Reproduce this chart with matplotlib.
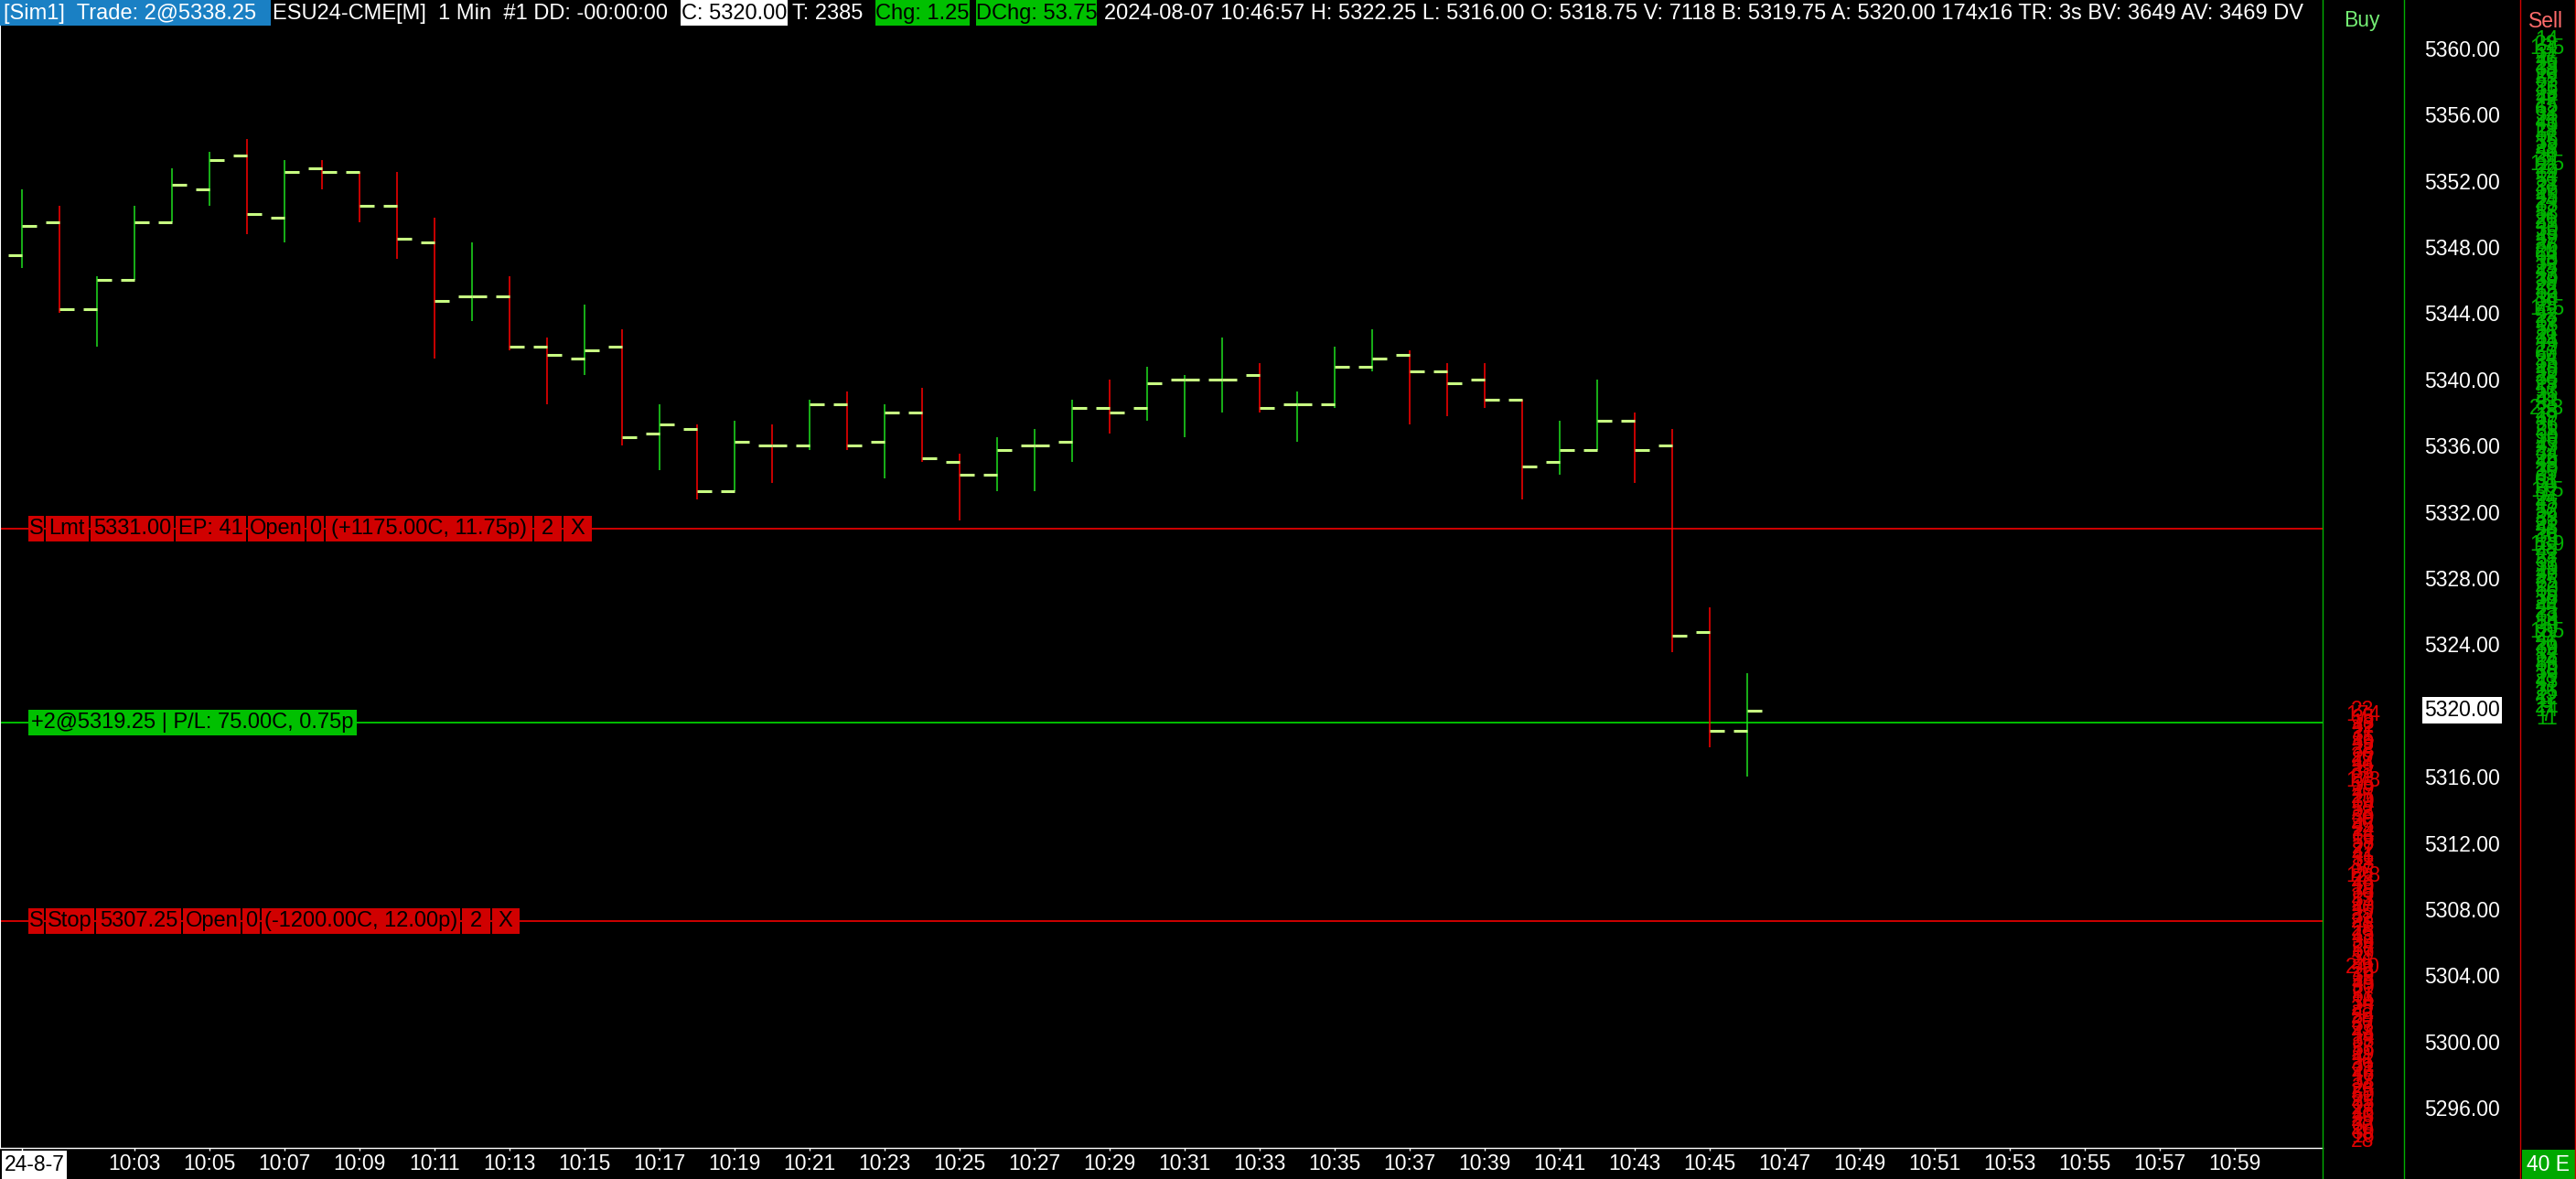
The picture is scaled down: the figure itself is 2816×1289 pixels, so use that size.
import matplotlib
matplotlib.use('Agg')
import matplotlib.pyplot as plt
from matplotlib.patches import Rectangle
from matplotlib.lines import Line2D
from matplotlib.transforms import blended_transform_factory

plt.rcParams['font.family'] = ['Liberation Sans', 'DejaVu Sans']

# ------------------------------------------------------------------ data
bar_start = '10:00'          # time of first bar, one bar per minute
opens = [5347.50, 5349.50, 5344.25, 5346.00, 5349.50, 5351.50, 5353.50, 5349.75,
         5352.75, 5352.50, 5350.50, 5348.25, 5345.00, 5345.00, 5342.00, 5341.25,
         5342.00, 5336.75, 5337.00, 5333.25, 5336.00, 5336.00, 5338.50, 5336.25,
         5338.00, 5335.00, 5334.25, 5336.00, 5336.25, 5338.25, 5338.25, 5340.00,
         5340.00, 5340.25, 5338.50, 5338.50, 5340.75, 5341.50, 5340.50, 5340.00,
         5338.75, 5335.00, 5335.75, 5337.50, 5336.00, 5324.75, 5318.75]
highs = [5351.50, 5350.50, 5346.25, 5350.50, 5352.75, 5353.75, 5354.50, 5353.25,
         5353.25, 5352.50, 5352.50, 5349.75, 5348.25, 5346.25, 5342.50, 5344.50,
         5343.00, 5338.50, 5337.25, 5337.50, 5337.25, 5338.75, 5339.25, 5338.50,
         5339.50, 5335.50, 5336.50, 5337.00, 5338.75, 5340.00, 5340.75, 5340.25,
         5342.50, 5341.00, 5339.25, 5342.00, 5343.00, 5341.75, 5341.00, 5341.00,
         5338.75, 5337.50, 5340.00, 5338.00, 5337.00, 5326.25, 5322.25]
lows = [5346.75, 5344.00, 5342.00, 5346.00, 5349.50, 5350.50, 5348.75, 5348.25,
        5351.50, 5349.50, 5347.25, 5341.25, 5343.50, 5341.75, 5338.50, 5340.25,
        5336.00, 5334.50, 5332.75, 5333.25, 5333.75, 5335.75, 5335.75, 5334.00,
        5335.00, 5331.50, 5333.25, 5333.25, 5335.00, 5336.75, 5337.50, 5336.50,
        5338.00, 5338.00, 5336.25, 5338.25, 5340.50, 5337.25, 5337.75, 5338.25,
        5332.75, 5334.25, 5335.75, 5333.75, 5323.50, 5317.75, 5316.00]
closes = [5349.25, 5344.25, 5346.00, 5349.50, 5351.75, 5353.25, 5350.00, 5352.50,
          5352.50, 5350.50, 5348.50, 5344.75, 5345.00, 5342.00, 5341.50, 5341.75,
          5336.50, 5337.25, 5333.25, 5336.25, 5336.00, 5338.50, 5336.00, 5338.00,
          5335.25, 5334.25, 5335.75, 5336.00, 5338.25, 5338.00, 5339.75, 5340.00,
          5340.00, 5338.25, 5338.50, 5340.75, 5341.25, 5340.50, 5339.75, 5338.75,
          5334.75, 5335.75, 5337.50, 5335.75, 5324.50, 5318.75, 5320.00]

time_labels = ['10:03', '10:05', '10:07', '10:09', '10:11', '10:13', '10:15', '10:17',
               '10:19', '10:21', '10:23', '10:25', '10:27', '10:29', '10:31', '10:33',
               '10:35', '10:37', '10:39', '10:41', '10:43', '10:45', '10:47', '10:49',
               '10:51', '10:53', '10:55', '10:57', '10:59']
date_label = '24-8-7'
price_ticks = [5296, 5300, 5304, 5308, 5312, 5316, 5320, 5324, 5328, 5332,
               5336, 5340, 5344, 5348, 5352, 5356, 5360]
last_price = 5320.00

limit_price = 5331.00
limit_cells = ['S', 'Lmt', '5331.00', 'EP: 41', 'Open', '0', '(+1175.00C, 11.75p)', '2', 'X']
stop_price = 5307.25
stop_cells = ['S', 'Stop', '5307.25', 'Open', '0', '(-1200.00C, 12.00p)', '2', 'X']
position_price = 5319.25
position_text = '+2@5319.25 | P/L: 75.00C, 0.75p'

header_texts = ['[Sim1]  Trade: 2@5338.25',
                'ESU24-CME[M]  1 Min  #1 DD: -00:00:00',
                'C: 5320.00',
                'T: 2385',
                'Chg: 1.25',
                'DChg: 53.75',
                '2024-08-07 10:46:57 H: 5322.25 L: 5316.00 O: 5318.75 V: 7118 '
                'B: 5319.75 A: 5320.00 174x16 TR: 3s BV: 3649 AV: 3469 DV']
buy_title = 'Buy'
sell_title = 'Sell'
corner_label = '40 E'

# sell column volumes, one per 0.25 tick from 5360.50 downwards
sell_top = 5360.50
sell_volume = [
    14, 22, 135, 31, 17, 46, 25, 38, 12, 29,
    53, 21, 36, 18, 44, 27, 15, 62, 33, 24,
    41, 19, 28, 57, 16, 35, 23, 48, 26, 31,
    125, 22, 39, 14, 51, 28, 37, 19, 45, 24,
    33, 17, 58, 26, 21, 43, 30, 15, 49, 27,
    36, 20, 64, 18, 32, 25, 47, 13, 39, 28,
    22, 55, 16, 34, 29, 135, 42, 23, 37, 18,
    51, 26, 31, 44, 19, 27, 60, 24, 35, 15,
    46, 22, 38, 29, 17, 53, 25, 41, 33, 233,
    28, 19, 47, 36, 21, 58, 30, 16, 43, 27,
    34, 22, 49, 18, 39, 25, 61, 31, 20, 115,
    37, 24, 45, 17, 52, 29, 33, 21, 48, 26,
    36, 15, 139, 28, 42, 23, 57, 31, 19, 46,
    27, 35, 22, 50, 16, 38, 29, 44, 25, 33,
    18, 54, 30, 135, 21, 47, 26, 39, 14, 32,
    24, 58, 19, 36, 28, 43, 17, 31, 25, 12,
    9, 21, 14, 7, 11]
# buy column volumes, one per 0.25 tick from 5320.00 downwards
buy_top = 5320.00
buy_volume = [
    23, 174, 35, 18, 42, 27, 31, 15, 49, 22,
    38, 26, 17, 44, 29, 33, 21, 178, 36, 19,
    47, 25, 30, 14, 52, 28, 39, 20, 45, 24,
    34, 16, 58, 27, 22, 41, 31, 18, 37, 26,
    128, 23, 46, 19, 35, 29, 53, 17, 40, 25,
    32, 21, 48, 28, 15, 43, 36, 24, 57, 19,
    31, 26, 240, 22, 39, 18, 45, 30, 27, 51,
    16, 34, 25, 42, 29, 20, 37, 23, 48, 14,
    33, 27, 55, 19, 41, 26, 31, 22, 46, 17,
    38, 24, 29, 50, 21, 35, 27, 18, 43, 25,
    32, 20, 39, 16, 28]

# ------------------------------------------------------------------ layout
W, H, DPI = 2816, 1289, 100
PLOT_R = 2539          # right edge of price pane (px)
PLOT_B = 1255          # bottom edge of price pane (px)
PX_PER_PT = 18.1       # vertical pixels per index point
Y_REF_PX, Y_REF_P = 776.7, 5320.0
PX_PER_BAR = 41.0
X0_PX = 24.3           # pixel of first bar
FS = 17
FS_AX = 16.5
FS_VOL = 16.5

RED = '#d00000'
GREEN_BG = '#00c000'
UP = '#1fe01f'
DOWN = '#ff0000'
TICKC = '#c8ff82'


def mins(t):
    h, m = t.split(':')
    return int(h) * 60 + int(m)


t0 = mins(bar_start)

fig = plt.figure(figsize=(W / DPI, H / DPI), dpi=DPI, facecolor='black')

ax = fig.add_axes([0, 1 - PLOT_B / H, PLOT_R / W, PLOT_B / H])
ax.set_facecolor('black')
y_top = Y_REF_P + Y_REF_PX / PX_PER_PT
y_bot = Y_REF_P - (PLOT_B - Y_REF_PX) / PX_PER_PT
ax.set_ylim(y_bot, y_top)
ax.set_xlim(-X0_PX / PX_PER_BAR, (PLOT_R - X0_PX) / PX_PER_BAR)

ov = fig.add_axes([0, 0, 1, 1])
ov.set_xlim(0, W)
ov.set_ylim(H, 0)
ov.axis('off')
ov.patch.set_visible(False)
ov.set_zorder(5)

bt = blended_transform_factory(ov.transData, ax.transData)

# ---- order / position lines
ax.axhline(limit_price, color=RED, lw=1.4, zorder=1)
ax.axhline(stop_price, color=RED, lw=1.4, zorder=1)
ax.axhline(position_price, color=GREEN_BG, lw=1.4, zorder=1)

# ---- OHLC bars
xs = list(range(len(opens)))
colors = []
for i in xs:
    if closes[i] > opens[i]:
        colors.append(UP)
    elif closes[i] < opens[i]:
        colors.append(DOWN)
    else:
        prev = closes[i - 1] if i > 0 else opens[i]
        colors.append(UP if closes[i] >= prev else DOWN)
ax.vlines(xs, lows, highs, colors=colors, lw=1.1, zorder=3)
tw = 15.5 / PX_PER_BAR
ax.hlines(opens, [x - tw for x in xs], xs, colors=TICKC, lw=2.2, zorder=4,
          capstyle='butt')
ax.hlines(closes, xs, [x + tw for x in xs], colors=TICKC, lw=2.2, zorder=4,
          capstyle='butt')

# ---- axes styling
for s in ['top', 'right']:
    ax.spines[s].set_visible(False)
ax.spines['bottom'].set_color('white')
ax.spines['bottom'].set_linewidth(1.0)
ax.spines['left'].set_color('white')
ax.spines['left'].set_linewidth(1.5)

ax.yaxis.tick_right()
ax.set_yticks(price_ticks)
ax.set_yticklabels([f'{p:.2f}' for p in price_ticks])
ax.tick_params(axis='y', length=0, pad=(2650 - PLOT_R) / (DPI / 72),
               labelcolor='white', labelsize=FS_AX)

xt = [0] + [mins(t) - t0 for t in time_labels]
ax.set_xticks(xt)
ax.set_xticklabels([''] + time_labels)
ax.tick_params(axis='x', length=2.2, width=1, color='white', pad=2.3,
               labelcolor='white', labelsize=FS_AX)

# date box at the left of the time axis
ov.add_patch(Rectangle((2, 1258), 71, 31, facecolor='white', edgecolor='none'))
ov.text(37.5, 1274, date_label, color='black', fontsize=FS_AX, ha='center',
        va='center')

# ---- column separators
for xpx, c in [(PLOT_R, '#00b000'), (2628, '#00b000'), (2755, '#d00000'),
               (2815, '#d00000')]:
    ov.add_line(Line2D([xpx, xpx], [0, H], color=c, lw=1.0))

ov.text(2582, 23, buy_title, color='#74ee74', fontsize=FS_AX, ha='center',
        va='center')
ov.text(2783, 23, sell_title, color='#ff6b6b', fontsize=FS_AX, ha='center',
        va='center')
ov.add_patch(Rectangle((2757, 1257), 59, 32, facecolor='#00a800',
                       edgecolor='none'))
ov.text(2786, 1274, corner_label, color='white', fontsize=FS_AX, ha='center',
        va='center')

# ---- volume columns
for i, v in enumerate(sell_volume):
    ov.text(2784, sell_top - 0.25 * i, str(v), transform=bt, color='#00b000',
            fontsize=FS_VOL, ha='center', va='center', clip_on=False)
for i, v in enumerate(buy_volume):
    ov.text(2583, buy_top - 0.25 * i, str(v), transform=bt, color='#e00000',
            fontsize=FS_VOL, ha='center', va='center', clip_on=False)

# ---- current price marker
hpt = 29 / PX_PER_PT
ov.add_patch(Rectangle((2648, last_price - hpt / 2), 87, hpt, transform=bt,
                       facecolor='white', edgecolor='none', clip_on=False))
ov.text(2691.5, last_price, f'{last_price:.2f}', transform=bt, color='black',
        fontsize=FS_AX, ha='center', va='center', clip_on=False)

# ---- order labels
def cell_label(price, texts, edges, bg):
    h = 28 / PX_PER_PT
    for k, s in enumerate(texts):
        x0, x1 = edges[k], edges[k + 1]
        ov.add_patch(Rectangle((x0 + 1, price - h / 2), x1 - x0 - 2, h,
                               transform=bt, facecolor=bg, edgecolor='none',
                               clip_on=False))
        ov.text((x0 + x1) / 2, price, s, transform=bt, color='black',
                fontsize=17, ha='center', va='center', clip_on=False)


cell_label(limit_price, limit_cells,
           [30, 49, 97.6, 191.4, 269.8, 333.7, 355.1, 582.5, 615, 647.5], RED)
cell_label(stop_price, stop_cells,
           [30, 49, 104, 198.6, 264, 285, 504, 536.5, 569], RED)
cell_label(position_price, [position_text], [30, 391], GREEN_BG)

# ---- header line
header_layout = [
    # box x0, box x1, box colour, text colour, text x, align
    (0, 296, '#1a80c4', 'white', 4, 'left'),
    (None, None, None, 'white', 298, 'left'),
    (744, 861, 'white', 'black', 802.5, 'center'),
    (None, None, None, 'white', 866, 'left'),
    (957, 1060, GREEN_BG, 'black', 1008.5, 'center'),
    (1067, 1199, GREEN_BG, 'black', 1133, 'center'),
    (None, None, None, 'white', 1207, 'left'),
]
for s, (b0, b1, bc, tc, tx, ha) in zip(header_texts, header_layout):
    if b0 is not None:
        ov.add_patch(Rectangle((b0, 0), b1 - b0, 28, facecolor=bc,
                               edgecolor='none'))
    t = ov.text(tx, 15, s, color=tc, fontsize=FS, ha=ha, va='center')
    t.set_clip_on(True)
    t.set_clip_box(ax.bbox)

fig.savefig('out.png', dpi=DPI, facecolor='black')
